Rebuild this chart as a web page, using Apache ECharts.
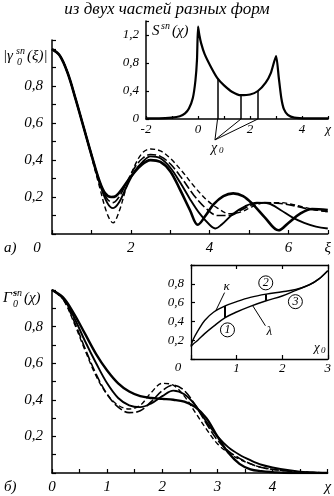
<!DOCTYPE html>
<html><head><meta charset="utf-8">
<script src="https://cdn.jsdelivr.net/npm/echarts@6/dist/echarts.min.js"></script>
<style>html,body{margin:0;padding:0;background:#fff}#c{width:334px;height:496px}</style>
</head><body><div id="c"></div>
<script>
// ---------- data ----------
const titleText = 'из двух частей разных форм';
// panel (a): |gamma_0^sn(xi)|
const a1X = [0,0.2,0.4,0.6,0.8,1.0,1.2,1.35,1.5,1.62,1.8,2.0,2.25,2.5,2.75,3.0,3.25,3.5,3.7,3.9,4.1,4.35,4.6,4.85,5.1,5.4,5.75,6.0,6.3,6.6,7.0];
const a1Y = [1,0.965,0.87,0.73,0.58,0.43,0.29,0.22,0.2,0.205,0.25,0.31,0.37,0.40,0.39,0.34,0.24,0.13,0.05,0.1,0.16,0.205,0.22,0.205,0.16,0.09,0.02,0.06,0.11,0.135,0.13];
const a2X = [0,0.2,0.4,0.6,0.8,1.0,1.2,1.4,1.55,1.7,1.9,2.1,2.3,2.5,2.75,3.0,3.25,3.5,3.75,4.0,4.15,4.3,4.6,4.9,5.2,5.5,5.8,6.1,6.4,6.7,7.0];
const a2Y = [1,0.965,0.87,0.73,0.58,0.43,0.28,0.17,0.14,0.17,0.26,0.34,0.39,0.42,0.41,0.36,0.28,0.19,0.11,0.05,0.03,0.05,0.11,0.15,0.17,0.165,0.13,0.09,0.06,0.04,0.03];
const a3X = [0,0.2,0.4,0.6,0.8,1.0,1.2,1.4,1.55,1.7,1.9,2.1,2.3,2.5,2.75,3.0,3.3,3.6,3.9,4.2,4.5,4.8,5.1,5.4,5.8,6.1,6.4,6.7,7.0];
const a3Y = [1,0.965,0.87,0.73,0.58,0.43,0.29,0.19,0.17,0.2,0.28,0.36,0.41,0.43,0.42,0.38,0.3,0.21,0.14,0.1,0.1,0.13,0.16,0.17,0.165,0.155,0.14,0.13,0.12];
const a4X = [0,0.2,0.4,0.6,0.8,1.0,1.2,1.4,1.55,1.7,1.9,2.1,2.3,2.5,2.75,3.0,3.3,3.6,3.9,4.2,4.5,4.8,5.1,5.4,5.8,6.1,6.4,6.7,7.0];
const a4Y = [1,0.965,0.87,0.73,0.58,0.42,0.26,0.11,0.06,0.12,0.26,0.37,0.44,0.46,0.45,0.41,0.34,0.26,0.19,0.14,0.11,0.12,0.15,0.17,0.17,0.16,0.145,0.13,0.12];
// inset S^sn(chi)
const sX = [-2,-1.5,-1,-0.7,-0.5,-0.35,-0.2,-0.1,-0.04,0,0.05,0.12,0.25,0.5,0.75,1.0,1.3,1.65,2.0,2.3,2.6,2.8,3.0,3.1,3.2,3.3,3.45,3.7,4.2,5];
const sY = [0.01,0.01,0.02,0.04,0.08,0.15,0.3,0.55,0.85,1.32,1.2,1.08,0.93,0.74,0.58,0.48,0.39,0.34,0.35,0.40,0.52,0.66,0.9,0.6,0.3,0.14,0.06,0.02,0.01,0.01];
const chi0 = [0.75, 1.65, 2.3];
// panel (б): Gamma_0^sn(chi)
const bX = [0,0.2,0.4,0.6,0.8,1.0,1.2,1.4,1.6,1.8,2.0,2.2,2.4,2.6,2.8,3.0,3.2,3.4,3.6,3.8,4.0,4.3,4.6,5.0];
const b1Y = [1,0.96,0.87,0.76,0.65,0.56,0.49,0.445,0.42,0.41,0.405,0.4,0.39,0.36,0.3,0.2,0.11,0.05,0.02,0.01,0.005,0,0,0];
const b2Y = [1,0.955,0.85,0.72,0.6,0.49,0.41,0.37,0.36,0.38,0.42,0.45,0.43,0.37,0.28,0.2,0.14,0.1,0.07,0.045,0.03,0.015,0.005,0];
const b3Y = [1,0.95,0.83,0.68,0.54,0.43,0.36,0.33,0.34,0.39,0.45,0.48,0.45,0.37,0.27,0.18,0.12,0.08,0.05,0.03,0.02,0.01,0.005,0];
const b4Y = [1,0.95,0.82,0.67,0.53,0.43,0.37,0.35,0.37,0.44,0.49,0.48,0.42,0.33,0.24,0.16,0.11,0.075,0.05,0.03,0.02,0.01,0.005,0];
// inset kappa / lambda (chi0)
const kX = [0,0.05,0.15,0.3,0.5,0.75,1.0,1.3,1.65,2.0,2.3,2.6,2.8,3.0];
const kappaY = [0.14,0.21,0.3,0.41,0.5,0.565,0.61,0.655,0.69,0.715,0.74,0.79,0.85,0.94];
const lambdaY = [0.13,0.16,0.2,0.27,0.35,0.44,0.5,0.56,0.62,0.67,0.73,0.79,0.85,0.94];
const circleLabels = ['1','2','3'];
const circlePos = [[0.8,0.31],[1.64,0.81],[2.29,0.61]];

// ---------- chart ----------
const F = 'Liberation Serif';
const fmt = v => String(Math.round(v*10)/10).replace('.', ',');
const pairs = (xs, ys) => xs.map((x, i) => [x, ys[i]]);
const lab = (fn, margin, size) => ({show:true, formatter: fn, interval:0, margin, fontFamily:F, fontStyle:'italic', fontSize:size, color:'#000'});
const axLine = w => ({show:true, onZero:false, lineStyle:{color:'#000', width:w}});
const tick = len => ({show:true, inside:true, length:len, interval:0, lineStyle:{color:'#000', width:1.2}});
const noLab = {show:false};
const inList = (v, list) => list.some(t => Math.abs(t - v) < 1e-6);

const chart = echarts.init(document.getElementById('c'), null, {renderer:'canvas'});

const xAxis = [
  {gridIndex:0, type:'value', min:0, max:7, interval:1, axisLine:axLine(1.5), axisTick:tick(4), splitLine:{show:false},
   axisLabel: lab(v => v===7 ? 'ξ' : (inList(v,[2,4,6]) ? String(v) : ''), 7, 15)},
  {gridIndex:1, type:'value', min:-2, max:5, interval:1, axisLine:axLine(1.5), axisTick:tick(3), splitLine:{show:false},
   axisLabel: lab(v => v===5 ? 'χ' : (inList(v,[-2,0,2,4]) ? String(v) : ''), 4, 13)},
  {gridIndex:2, type:'value', min:0, max:5, interval:0.5, axisLine:axLine(1.5), axisTick:tick(4), splitLine:{show:false},
   axisLabel: lab(v => v===5 ? 'χ' : (inList(v,[0,1,2,3,4]) ? String(v) : ''), 7, 15)},
  {gridIndex:3, type:'value', min:0, max:3, interval:1, axisLine:axLine(1.3), axisTick:tick(4), splitLine:{show:false},
   axisLabel: lab(v => inList(v,[1,2,3]) ? String(v) : '', 3, 13)},
  {gridIndex:3, type:'value', position:'top', min:0, max:3, interval:1, axisLine:axLine(1.3), axisTick:tick(4), splitLine:{show:false}, axisLabel:noLab}
];
const yAxis = [
  {gridIndex:0, type:'value', min:0, max:1.05, interval:0.1, axisLine:axLine(1.5), axisTick:tick(4), splitLine:{show:false},
   axisLabel: lab(v => inList(v,[0.2,0.4,0.6,0.8]) ? fmt(v) : '', 9, 15)},
  {gridIndex:1, type:'value', min:0, max:1.4, interval:0.4, axisLine:axLine(1.5), axisTick:tick(3), splitLine:{show:false},
   axisLabel: lab(v => inList(v,[0,0.4,0.8,1.2]) ? fmt(v) : '', 7, 13)},
  {gridIndex:2, type:'value', min:0, max:1, interval:0.1, axisLine:axLine(1.5), axisTick:tick(4), splitLine:{show:false},
   axisLabel: lab(v => inList(v,[0.2,0.4,0.6,0.8]) ? fmt(v) : '', 9, 15)},
  {gridIndex:3, type:'value', min:0, max:1, interval:0.2, axisLine:axLine(1.3), axisTick:tick(4), splitLine:{show:false},
   axisLabel: lab(v => inList(v,[0.2,0.4,0.6,0.8]) ? fmt(v) : '', 7, 13)},
  {gridIndex:3, type:'value', position:'right', min:0, max:1, interval:0.2, axisLine:axLine(1.3), axisTick:{show:false}, splitLine:{show:false}, axisLabel:noLab}
];

const line = (xi, yi, data, width, dash, smooth) => ({
  type:'line', xAxisIndex:xi, yAxisIndex:yi, data, showSymbol:false, smooth: smooth==null ? 0.35 : smooth, silent:true, z:3,
  lineStyle:{color:'#000', width, type: dash || 'solid'}
});

const sSeries = line(1, 1, pairs(sX, sY), 2.2, null, 0.2);
sSeries.markLine = {symbol:'none', silent:true, label:{show:false}, animation:false,
  lineStyle:{color:'#000', width:1.5, type:'solid'},
  data: chi0.map(c => [{coord:[c, 0]}, {coord:[c, sY[sX.indexOf(c)]]}])};

const kSeries = line(3, 3, pairs(kX, kappaY), 1.4);
kSeries.markLine = {symbol:'none', silent:true, label:{show:false}, animation:false,
  lineStyle:{color:'#000', width:2, type:'solid'},
  data: chi0.map(c => [{coord:[c, lambdaY[kX.indexOf(c)]]}, {coord:[c, kappaY[kX.indexOf(c)]]}])};

const series = [
  line(0,0,pairs(a1X,a1Y),2.6),
  line(0,0,pairs(a2X,a2Y),1.9),
  line(0,0,pairs(a3X,a3Y),1.6,[9,3]),
  line(0,0,pairs(a4X,a4Y),1.4,[5,3]),
  sSeries,
  line(2,2,pairs(bX,b1Y),2.4),
  line(2,2,pairs(bX,b2Y),1.9),
  line(2,2,pairs(bX,b3Y),1.6,[9,3]),
  line(2,2,pairs(bX,b4Y),1.4,[5,3]),
  kSeries,
  line(3,3,pairs(kX,lambdaY),1.4)
];

chart.setOption({
  animation:false,
  backgroundColor:'#fff',
  grid:[
    {left:52, top:40, width:280, height:194},
    {left:146, top:21, width:185.5, height:98},
    {left:52, top:290, width:280, height:183},
    {left:191, top:265, width:139, height:94}
  ],
  xAxis, yAxis, series
});

// ---------- annotations ----------
const px = (g, p) => chart.convertToPixel({gridIndex:g}, p);
const T = (x, y, text, size, extra) => Object.assign({type:'text', x, y, z:100, style:Object.assign({text, fill:'#000', font:`italic ${size}px "${F}"`, textAlign:'left', textVerticalAlign:'middle'}, extra||{})});
const L = (p, q, w) => ({type:'line', z:100, shape:{x1:p[0], y1:p[1], x2:q[0], y2:q[1]}, style:{stroke:'#000', lineWidth:w||1}});

const g = [];
g.push(T(167, 10, titleText, 17, {textAlign:'center'}));
// y label (a)
g.push(T(3, 56, '|γ', 15));
g.push(T(16, 51, 'sn', 10));
g.push(T(17, 62, '0', 10));
g.push(T(27, 56, '(ξ)|', 15));
// x "0" of (a) and panel label
g.push(T(37, 248, '0', 15, {textAlign:'center'}));
g.push(T(4, 248, 'а)', 15));
// y label (б)
g.push(T(3, 298, 'Γ̃', 15));
g.push(T(13, 293, 'sn', 10));
g.push(T(13, 304, '0', 10));
g.push(T(24, 298, '(χ)', 15));
g.push(T(4, 487, 'б)', 15));
// inset S label
g.push(T(152, 31, 'S', 15));
g.push(T(161, 26, 'sn', 10));
g.push(T(172, 31, '(χ)', 15));
// chi0 fan in top inset
const lp = px(1, [0.65, -0.37]);
g.push(T(lp[0]-4, lp[1]+3, 'χ', 14));
g.push(T(lp[0]+4, lp[1]+6, '0', 9));
chi0.forEach(c => { g.push(L([lp[0], lp[1]-5], px(1, [c, 0]), 1)); });
// bottom inset texts
g.push(T(178, 368, '0', 13, {textAlign:'center'}));
g.push(T(314, 348, 'χ', 13));
g.push(T(321, 351, '0', 9));
const kp = px(3, [0.78, 0.77]);
g.push(T(kp[0], kp[1], 'κ', 13, {textAlign:'center'}));
g.push(L([kp[0]-2, kp[1]+6], px(3, [0.55, 0.52]), 1));
const lpp = px(3, [1.72, 0.29]);
g.push(T(lpp[0], lpp[1], 'λ', 13, {textAlign:'center'}));
g.push(L([lpp[0]-4, lpp[1]-6], px(3, [1.35, 0.57]), 1));
circleLabels.forEach((t, i) => {
  const p = px(3, circlePos[i]);
  g.push({type:'circle', z:100, shape:{cx:p[0], cy:p[1], r:7}, style:{fill:'#fff', stroke:'#000', lineWidth:1}});
  g.push(T(p[0], p[1], t, 12, {textAlign:'center'}));
});
chart.setOption({graphic: g});
</script></body></html>
